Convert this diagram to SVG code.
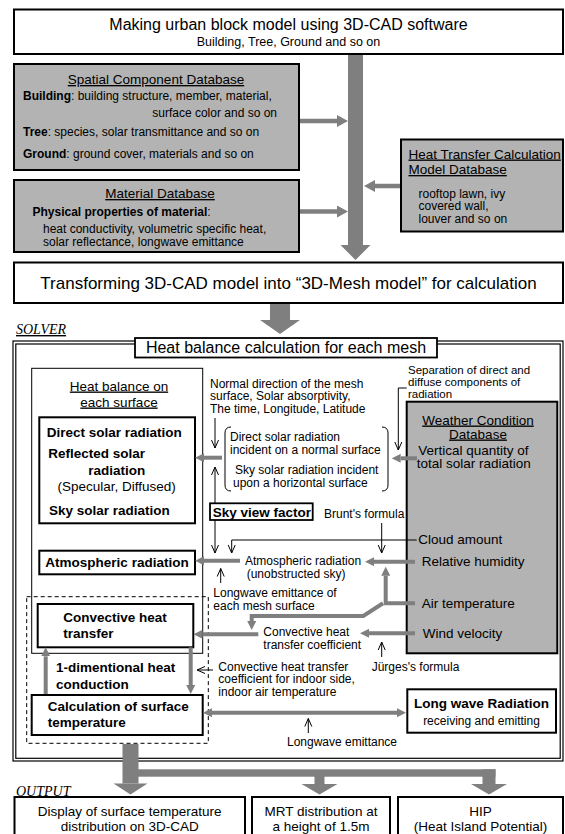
<svg xmlns="http://www.w3.org/2000/svg" width="565" height="834" viewBox="0 0 565 834">
<style>
text{font-family:"Liberation Sans",Arial,Helvetica,sans-serif;fill:#000}
.b{font-weight:bold}
.u{text-decoration:underline}
.box{fill:#fff;stroke:#000;stroke-width:2}
.db{fill:#b3b3b3;stroke:#000;stroke-width:2}
.ga{stroke:#7f7f7f;stroke-width:4;fill:none;marker-end:url(#ga)}
.gb{stroke:#7f7f7f;stroke-width:4.5;fill:none;marker-end:url(#gb)}
.gf{fill:#7f7f7f;stroke:none}
.ln{stroke:#000;stroke-width:1;fill:none;marker-end:url(#va)}
.s12{font-size:12px}
.s11{font-size:11.5px}
.s13{font-size:13.5px}
.serif{font-family:"Liberation Serif","Times New Roman",serif;font-style:italic;font-size:14px}
</style>
<defs>
<marker id="ga" viewBox="0 0 9 9" refX="0" refY="4.5" markerWidth="9" markerHeight="9" markerUnits="userSpaceOnUse" orient="auto-start-reverse"><path d="M0,0 L9,4.5 L0,9z" fill="#7f7f7f"/></marker>
<marker id="gb" viewBox="0 0 11 12" refX="0" refY="6" markerWidth="11" markerHeight="12" markerUnits="userSpaceOnUse" orient="auto"><path d="M0,0 L11,6 L0,12z" fill="#7f7f7f"/></marker>
<marker id="va" viewBox="0 0 8 8" refX="8" refY="4" markerWidth="8" markerHeight="8" markerUnits="userSpaceOnUse" orient="auto" style="overflow:visible"><path d="M0,0.5 L8,4 L0,7.5" fill="none" stroke="#000" stroke-width="1"/></marker>
</defs>

<g id="connectors">
<rect class="gf" x="348" y="54" width="15" height="191"/>
<path class="gf" d="M340.5,245 L370.5,245 L355.5,260z"/>
<line class="gb" x1="300" y1="121" x2="337" y2="121"/>
<line class="gb" x1="300" y1="211.5" x2="337" y2="211.5"/>
<line class="gb" x1="400" y1="186" x2="375" y2="186"/>
<rect class="gf" x="270" y="303" width="20" height="17"/>
<path class="gf" d="M260,320 L300,320 L280,334z"/>
</g>

<g id="top">
<rect class="box" x="14" y="9.5" width="549" height="44.5"/>
<text x="288.5" y="30" font-size="16" text-anchor="middle">Making urban block model using 3D-CAD software</text>
<text x="288.5" y="46" font-size="12.5" text-anchor="middle">Building, Tree, Ground and so on</text>
</g>

<g id="spatial">
<rect class="db" x="14" y="64" width="285" height="106"/>
<text class="s13 u" x="156" y="84" text-anchor="middle">Spatial Component Database</text>
<text class="s12" x="23" y="100"><tspan class="b">Building</tspan>: building structure, member, material,</text>
<text class="s12" x="277" y="116.5" text-anchor="end">surface color and so on</text>
<text class="s12" x="23" y="135.5"><tspan class="b">Tree</tspan>: species, solar transmittance and so on</text>
<text class="s12" x="23" y="158"><tspan class="b">Ground</tspan>: ground cover, materials and so on</text>
</g>

<g id="material">
<rect class="db" x="14" y="180" width="285" height="72"/>
<text class="s13 u" x="160" y="198" text-anchor="middle">Material Database</text>
<text class="s12" x="32.5" y="216"><tspan class="b">Physical properties of material</tspan>:</text>
<text class="s12" x="43" y="233">heat conductivity, volumetric specific heat,</text>
<text class="s12" x="43" y="245.5">solar reflectance, longwave emittance</text>
</g>

<g id="heatmodel">
<rect class="db" x="401" y="139.5" width="162" height="92"/>
<text class="s13 u" x="408.5" y="158.5">Heat Transfer Calculation</text>
<text class="s13 u" x="408.5" y="174">Model Database</text>
<text class="s12" x="418.5" y="197.5">rooftop lawn, ivy</text>
<text class="s12" x="418.5" y="210">covered wall,</text>
<text class="s12" x="418.5" y="222.5">louver and so on</text>
</g>

<g id="transform">
<rect class="box" x="14" y="262.5" width="549" height="40.5"/>
<text x="288.5" y="289" font-size="17" text-anchor="middle">Transforming 3D-CAD model into “3D-Mesh model” for calculation</text>
</g>

<g id="solver">
<text class="serif u" x="16" y="334">SOLVER</text>
<rect x="13" y="341" width="550" height="420" fill="none" stroke="#000" stroke-width="1.2"/>
<rect x="15.8" y="344" width="544.4" height="414.3" fill="none" stroke="#000" stroke-width="1.2"/>
</g>

<g id="heatcalc">
<rect x="135" y="338" width="302" height="19.5" fill="#fff" stroke="#000" stroke-width="1.8"/>
<text x="286" y="353" font-size="16" text-anchor="middle">Heat balance calculation for each mesh</text>
</g>

<g id="surface">
<rect x="31.7" y="368.3" width="171" height="285" fill="#fff" stroke="#000" stroke-width="1"/>
<text class="s13 u" x="119" y="390.5" text-anchor="middle">Heat balance on</text>
<text class="s13 u" x="119" y="406.5" text-anchor="middle">each surface</text>
</g>

<g id="solarbox">
<rect class="box" x="39.3" y="417.3" width="155.7" height="106"/>
<text class="s13 b" x="46.7" y="436.5">Direct solar radiation</text>
<text class="s13 b" x="48.3" y="458">Reflected solar</text>
<text class="s13 b" x="116.7" y="474.5" text-anchor="middle">radiation</text>
<text class="s13" x="116.7" y="491" text-anchor="middle">(Specular, Diffused)</text>
<text class="s13 b" x="49" y="515">Sky solar radiation</text>
</g>

<g id="atmos">
<rect class="box" x="39.3" y="550.7" width="155.7" height="23.6"/>
<text class="s13 b" x="117" y="567" text-anchor="middle">Atmospheric radiation</text>
</g>

<g id="dashed">
<rect x="26.7" y="596.7" width="181.6" height="146.6" fill="none" stroke="#000" stroke-width="1" stroke-dasharray="4,3"/>
</g>

<g id="convective">
<rect class="box" x="37.7" y="604" width="155.6" height="43.3"/>
<text class="s13 b" x="63.3" y="622">Convective heat</text>
<text class="s13 b" x="63.3" y="638">transfer</text>
</g>

<g id="conduction">
<text class="s13 b" x="56" y="672">1-dimentional heat</text>
<text class="s13 b" x="56" y="688.5">conduction</text>
</g>

<g id="calc">
<rect class="box" x="31.7" y="695" width="171" height="40"/>
<text class="s13 b" x="47.7" y="710.5">Calculation of surface</text>
<text class="s13 b" x="47.7" y="727">temperature</text>
</g>

<g id="weather">
<rect class="db" x="406.7" y="401.7" width="150.6" height="251.6"/>
<text class="s13 u" x="478" y="424.5" text-anchor="middle">Weather Condition</text>
<text class="s13 u" x="478" y="438.5" text-anchor="middle">Database</text>
<text class="s13" x="418.3" y="454.5">Vertical quantity of</text>
<text class="s13" x="416.7" y="468">total solar radiation</text>
<text class="s13" x="418.3" y="544">Cloud amount</text>
<text class="s13" x="421.7" y="566">Relative humidity</text>
<text class="s13" x="421.7" y="608">Air temperature</text>
<text class="s13" x="422.7" y="638">Wind velocity</text>
</g>

<g id="skyview">
<rect x="210" y="503.3" width="102.7" height="16.7" fill="#fff" stroke="#000" stroke-width="1.8"/>
<text class="s13 b" x="212.7" y="517">Sky view factor</text>
</g>

<g id="longwave">
<rect class="box" x="407.3" y="689.3" width="148.7" height="43.4"/>
<text class="s13 b" x="481.5" y="708" text-anchor="middle">Long wave Radiation</text>
<text class="s12" x="481.5" y="724.5" text-anchor="middle">receiving and emitting</text>
</g>

<g id="labels">
<text class="s12" x="210" y="387.5">Normal direction of the mesh</text>
<text class="s12" x="210" y="400">surface, Solar absorptivity,</text>
<text class="s12" x="210" y="412.5">The time, Longitude, Latitude</text>
<text class="s11" x="408" y="373.5">Separation of direct and</text>
<text class="s11" x="408" y="385.5">diffuse components of</text>
<text class="s11" x="408" y="397.5">radiation</text>
<text class="s12" x="230" y="441">Direct solar radiation</text>
<text class="s12" x="230" y="453.5">incident on a normal surface</text>
<text class="s12" x="235" y="474">Sky solar radiation incident</text>
<text class="s12" x="233" y="486.5">upon a horizontal surface</text>
<text class="s12" x="324" y="517.5">Brunt's formula</text>
<text class="s12" x="245" y="565">Atmospheric radiation</text>
<text class="s12" x="246.7" y="577.5">(unobstructed sky)</text>
<text class="s12" x="213.3" y="597">Longwave emittance of</text>
<text class="s12" x="213.3" y="609.5">each mesh surface</text>
<text class="s12" x="263.3" y="636">Convective heat</text>
<text class="s12" x="263.3" y="648.5">transfer coefficient</text>
<text class="s12" x="371.7" y="670.5">Jürges's formula</text>
<text class="s12" x="218.3" y="670.5">Convective heat transfer</text>
<text class="s12" x="218.3" y="683">coefficient for indoor side,</text>
<text class="s12" x="218.3" y="696">indoor air temperature</text>
<text class="s12" x="342" y="745.5" text-anchor="middle">Longwave emittance</text>
</g>

<g id="solver-connectors">
<path d="M231,427 Q225,427 225,433 L225,485 Q225,491 231,491" fill="none" stroke="#000" stroke-width="1"/>
<path d="M382,427 Q388,427 388,433 L388,485 Q388,491 382,491" fill="none" stroke="#000" stroke-width="1"/>
<line class="ga" x1="222" y1="457.7" x2="204" y2="457.7"/>
<line class="ga" x1="417" y1="458.3" x2="400.7" y2="458.3"/>
<line class="ga" x1="240" y1="560.7" x2="204" y2="560.7"/>
<line class="ga" x1="415" y1="561.7" x2="374" y2="561.7"/>
<polyline class="ga" points="415,603.3 385.7,603.3 385.7,575.7"/>
<polyline class="ga" points="383,603.3 363.3,616 251.7,616 251.7,621"/>
<line class="ga" x1="415" y1="633.3" x2="369" y2="633.3"/>
<line class="ga" x1="258.3" y1="634.3" x2="202.5" y2="634.3"/>
<line class="ga" x1="45.7" y1="694" x2="45.7" y2="656.3"/>
<line class="ga" x1="190.7" y1="647.3" x2="190.7" y2="685"/>
<line class="ga" x1="212" y1="712.7" x2="397" y2="712.7" marker-start="url(#ga)"/>
<line class="ln" x1="215" y1="418" x2="215" y2="448"/>
<line class="ln" x1="215" y1="503" x2="215" y2="467"/>
<polyline class="ln" points="406.7,388 398.3,388 398.3,450"/>
<line class="ln" x1="215" y1="520" x2="215" y2="553"/>
<polyline class="ln" points="416.7,540 231.7,540 231.7,553"/>
<line class="ln" x1="381.7" y1="523" x2="381.7" y2="553"/>
<line class="ln" x1="220.7" y1="583" x2="220.7" y2="568.5"/>
<line class="ln" x1="381.7" y1="657" x2="381.7" y2="642"/>
<line class="ln" x1="213" y1="670" x2="197" y2="670"/>
<line class="ln" x1="308.3" y1="733" x2="308.3" y2="718.5"/>
</g>

<g id="output-connectors">
<rect class="gf" x="122.5" y="744" width="16" height="39.5"/>
<path class="gf" d="M113.5,783.5 L147.5,783.5 L130.5,794.5z"/>
<rect class="gf" x="138" y="769.3" width="357.5" height="7.4"/>
<rect class="gf" x="314.5" y="776" width="10" height="8"/>
<path class="gf" d="M301.5,784 L337.5,784 L319.5,794.5z"/>
<rect class="gf" x="482.5" y="769.3" width="13" height="15"/>
<path class="gf" d="M471,784 L507,784 L489,794.5z"/>
</g>

<text class="serif u" x="16" y="796">OUTPUT</text>

<g id="out1">
<rect class="box" x="14.5" y="797" width="230.5" height="50"/>
<text class="s13" x="129.7" y="815.5" text-anchor="middle">Display of surface temperature</text>
<text class="s13" x="129.7" y="831" text-anchor="middle">distribution on 3D-CAD</text>
</g>
<g id="out2">
<rect class="box" x="252" y="797" width="138" height="50"/>
<text class="s13" x="321" y="815.5" text-anchor="middle">MRT distribution at</text>
<text class="s13" x="321" y="831" text-anchor="middle">a height of 1.5m</text>
</g>
<g id="out3">
<rect class="box" x="398" y="797" width="165" height="50"/>
<text class="s13" x="480.5" y="815.5" text-anchor="middle">HIP</text>
<text class="s13" x="480.5" y="831" text-anchor="middle">(Heat Island Potential)</text>
</g>
</svg>
